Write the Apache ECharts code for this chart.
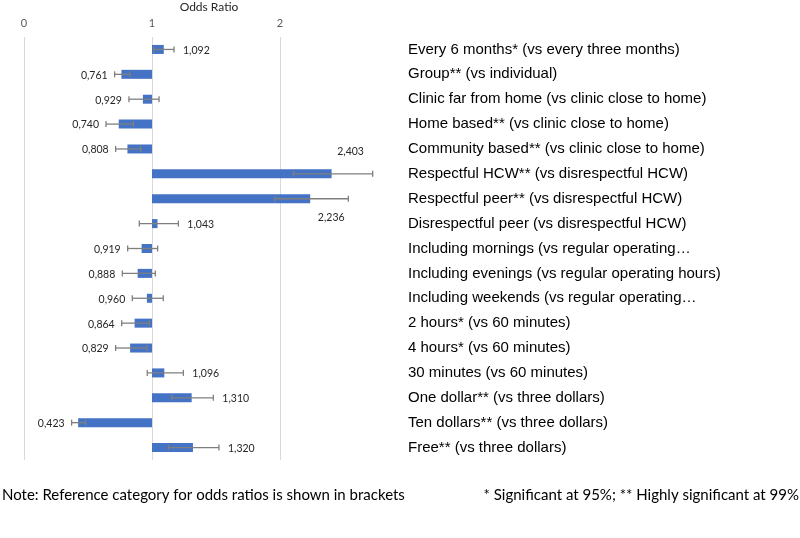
<!DOCTYPE html>
<html>
<head>
<meta charset="utf-8">
<script src="https://cdn.jsdelivr.net/npm/echarts@6/dist/echarts.min.js"></script>
<style>html,body{margin:0;padding:0;background:#fff}#c{width:800px;height:538px}</style>
</head>
<body>
<div id="c"></div>
<script>
const categories = [
  'Every 6 months* (vs every three months)',
  'Group** (vs individual)',
  'Clinic far from home (vs clinic close to home)',
  'Home based** (vs clinic close to home)',
  'Community based** (vs clinic close to home)',
  'Respectful HCW** (vs disrespectful HCW)',
  'Respectful peer** (vs disrespectful HCW)',
  'Disrespectful peer (vs disrespectful HCW)',
  'Including mornings (vs regular operating…',
  'Including evenings (vs regular operating hours)',
  'Including weekends (vs regular operating…',
  '2 hours* (vs 60 minutes)',
  '4 hours* (vs 60 minutes)',
  '30 minutes (vs 60 minutes)',
  'One dollar** (vs three dollars)',
  'Ten dollars** (vs three dollars)',
  'Free** (vs three dollars)'
];
const oddsRatio = [1.092, 0.761, 0.929, 0.740, 0.808, 2.403, 2.236, 1.043, 0.919, 0.888, 0.960, 0.864, 0.829, 1.096, 1.310, 0.423, 1.320];
const ciLower   = [1.016, 0.708, 0.820, 0.641, 0.716, 2.104, 1.960, 0.901, 0.810, 0.768, 0.846, 0.763, 0.716, 0.963, 1.154, 0.372, 1.128];
const ciUpper   = [1.172, 0.828, 1.055, 0.854, 0.912, 2.724, 2.534, 1.206, 1.044, 1.026, 1.088, 0.979, 0.960, 1.245, 1.479, 0.480, 1.523];
const xTicks = ['0', '1', '2'];
const baseline = 1;
const axisTitle = 'Odds Ratio';
const noteLeft = 'Note: Reference category for odds ratios is shown in brackets';
const noteRight = '* Significant at 95%; ** Highly significant at 99%';

// label placement style for the two long bars (as in the original)
const labelPlacement = {5: 'above', 6: 'below'};

const data = categories.map((c, i) => [i, oddsRatio[i], ciLower[i], ciUpper[i]]);
const fmt = v => v.toFixed(3).replace('.', ',');
const calibri = 'Lato, "Open Sans", sans-serif';

const chart = echarts.init(document.getElementById('c'), null, {renderer: 'canvas'});
chart.setOption({
  animation: false,
  grid: {left: 24, right: 392, top: 37, bottom: 78, outerBoundsMode: 'none', containLabel: false},
  xAxis: {
    type: 'value', position: 'top', min: 0, max: 3, interval: 1,
    axisLine: {show: false}, axisTick: {show: false},
    axisLabel: {
      formatter: v => (xTicks[v] !== undefined ? xTicks[v] : ''),
      color: '#595959', fontSize: 11, fontFamily: calibri, margin: 8
    },
    splitLine: {show: true, showMinLine: true, showMaxLine: false, lineStyle: {color: '#d9d9d9', width: 1}},
    name: axisTitle, nameLocation: 'middle', nameGap: 24,
    nameTextStyle: {color: '#262626', fontSize: 12, fontFamily: calibri, padding: [0, 14, 0, 0]}
  },
  yAxis: {
    type: 'category', data: categories, inverse: true, position: 'right',
    axisLine: {show: false}, axisTick: {show: false}, splitLine: {show: false},
    axisLabel: {color: '#000', fontSize: 15, fontFamily: '"Liberation Sans", Arial, sans-serif', margin: 0, align: 'left'}
  },
  series: [{
    type: 'custom',
    data: data,
    encode: {x: [1, 2, 3], y: 0},
    renderItem: function (params, api) {
      const idx = api.value(0);
      const v = api.value(1), lo = api.value(2), hi = api.value(3);
      const pb = api.coord([baseline, idx]);
      const pv = api.coord([v, idx]);
      const pl = api.coord([lo, idx]);
      const ph = api.coord([hi, idx]);
      const cy = pb[1];
      const h = 9, cap = 3;
      const children = [];
      children.push({
        type: 'rect',
        shape: {x: Math.min(pb[0], pv[0]), y: cy - h / 2, width: Math.abs(pv[0] - pb[0]), height: h},
        style: {fill: '#4472C4'}
      });
      const es = {stroke: '#7f7f7f', lineWidth: 1.3};
      children.push({type: 'line', shape: {x1: pl[0], y1: cy, x2: ph[0], y2: cy}, style: es});
      children.push({type: 'line', shape: {x1: pl[0], y1: cy - cap, x2: pl[0], y2: cy + cap}, style: es});
      children.push({type: 'line', shape: {x1: ph[0], y1: cy - cap, x2: ph[0], y2: cy + cap}, style: es});
      let tx, ty = cy + 1, align, vAlign = 'middle';
      const place = labelPlacement[idx];
      if (place === 'above') { tx = pv[0] + 19; ty = cy - 22; align = 'center'; }
      else if (place === 'below') { tx = pv[0] + 21; ty = cy + 19; align = 'center'; }
      else if (v >= baseline) { tx = ph[0] + 9; align = 'left'; }
      else { tx = pl[0] - 7; align = 'right'; }
      children.push({
        type: 'text',
        style: {text: fmt(v), x: tx, y: ty, align: align, verticalAlign: vAlign,
                fill: '#262626', fontSize: 10.5, fontFamily: calibri}
      });
      return {type: 'group', children: children};
    }
  }],
  graphic: [
    {type: 'text', left: 2, top: 488, style: {text: noteLeft, fill: '#000', fontSize: 15, fontFamily: calibri}},
    {type: 'text', right: 1, top: 488, style: {text: noteRight, fill: '#000', fontSize: 15, fontFamily: calibri}}
  ]
});
</script>
</body>
</html>
